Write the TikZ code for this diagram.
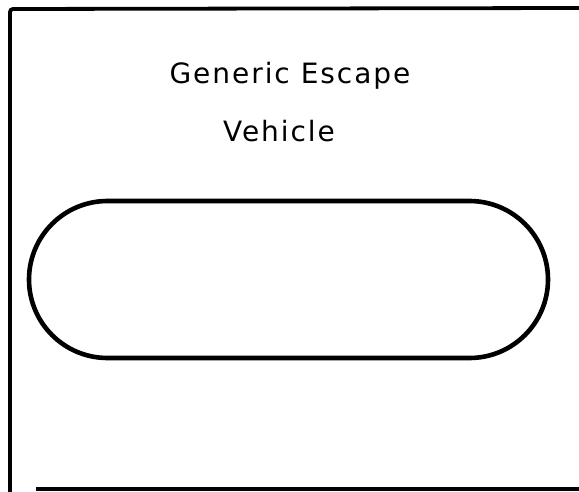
\documentclass[tikz,border=0pt]{standalone}
\usepackage{fontspec}
\setmainfont{DejaVu Sans}
\begin{document}
\begin{tikzpicture}[x=1pt,y=-1pt,
  frameline/.style={line width=3.8pt},
  hand/.style={font=\fontsize{28}{32}\selectfont\addfontfeatures{LetterSpace=7}},
  capsule/.style={line width=4.6pt}]
\useasboundingbox (0,0) rectangle (579,492);
\fill[white] (0,0) rectangle (579,492);
\draw[frameline,rounded corners=3pt] (579,8) -- (10,9) -- (10,492);
\draw[frameline] (36,489) -- (579,489);
\node[hand,anchor=base] (title1) at (290,84) {Generic Escape};
\node[hand,anchor=base] (title2) at (279,142) {Vehicle};
\draw[capsule,rounded corners=78.5pt] (29,201) rectangle (548,358);
\end{tikzpicture}
\end{document}
